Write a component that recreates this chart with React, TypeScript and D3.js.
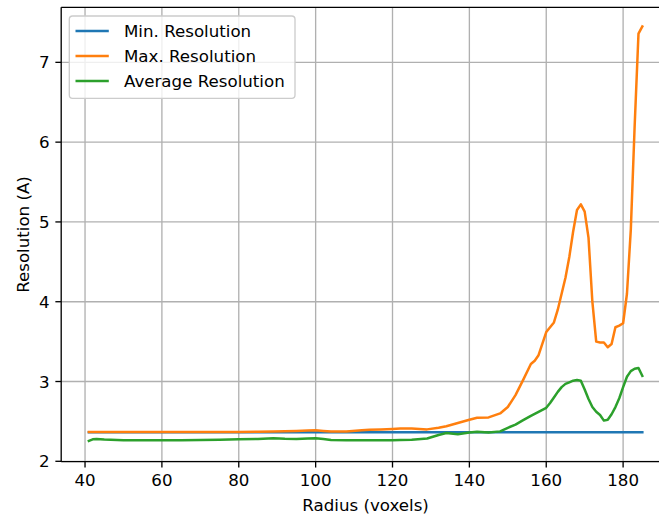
import React from "react";
import * as d3 from "d3";

const radius = [41, 42, 43, 45, 50, 55, 60, 65, 70, 75, 80, 85, 89, 92, 95, 98, 100, 102, 104, 108, 112, 114, 117, 120, 122, 125, 129, 132, 134, 137, 140, 142, 145, 148, 150, 152, 154, 156, 157, 158, 160, 161, 162, 163, 164, 165, 166, 167, 168, 169, 170, 171, 172, 173, 174, 175, 176, 177, 178, 179, 180, 181, 182, 183, 184, 185];

const maxResolution = [2.367, 2.367, 2.367, 2.367, 2.367, 2.367, 2.367, 2.367, 2.367, 2.367, 2.368, 2.37, 2.375, 2.378, 2.38, 2.385, 2.388, 2.38, 2.372, 2.372, 2.39, 2.395, 2.4, 2.405, 2.41, 2.41, 2.4, 2.42, 2.44, 2.48, 2.52, 2.545, 2.55, 2.6, 2.68, 2.83, 3.02, 3.22, 3.26, 3.33, 3.62, 3.68, 3.74, 3.9, 4.1, 4.3, 4.56, 4.88, 5.15, 5.22, 5.13, 4.8, 4.0, 3.5, 3.49, 3.49, 3.43, 3.47, 3.68, 3.7, 3.73, 4.1, 4.9, 6.2, 7.36, 7.45];

const avgResolution = [2.255, 2.275, 2.28, 2.272, 2.265, 2.265, 2.263, 2.265, 2.268, 2.27, 2.275, 2.28, 2.29, 2.282, 2.28, 2.285, 2.29, 2.28, 2.268, 2.265, 2.265, 2.265, 2.265, 2.265, 2.267, 2.27, 2.285, 2.33, 2.355, 2.34, 2.36, 2.37, 2.36, 2.375, 2.42, 2.46, 2.515, 2.57, 2.595, 2.62, 2.67, 2.73, 2.8, 2.87, 2.93, 2.97, 2.99, 3.01, 3.02, 3.01, 2.9, 2.78, 2.68, 2.62, 2.58, 2.51, 2.52, 2.59, 2.68, 2.79, 2.93, 3.06, 3.13, 3.16, 3.17, 3.07];

const minRadius = [41, 185];
const minResolution = [2.365, 2.365];

const xTicks = [40, 60, 80, 100, 120, 140, 160, 180];
const yTicks = [2, 3, 4, 5, 6, 7];

const seriesNames = ["Min. Resolution", "Max. Resolution", "Average Resolution"];
const seriesColors = ["#1f77b4", "#ff7f0e", "#2ca02c"];

const W = 659;
const H = 516;
const L = 61.2;
const R = 670;
const T = 7.3;
const B = 461.7;
const FS = 16.67;
const TICK = 5.83;

export default function App() {
  const x = d3.scaleLinear().domain([33.8, 192.2]).range([L, R]);
  const y = d3.scaleLinear().domain([1.995, 7.69]).range([B, T]);
  const line = d3
    .line<[number, number]>()
    .x((d) => x(d[0]))
    .y((d) => y(d[1]));

  const series: [number, number][][] = [
    minRadius.map((r, i) => [r, minResolution[i]]),
    radius.map((r, i) => [r, maxResolution[i]]),
    radius.map((r, i) => [r, avgResolution[i]]),
  ];

  const font = "'DejaVu Sans', sans-serif";

  return (
    <svg
      width={W}
      height={H}
      style={{ position: "absolute", left: 0, top: 0, background: "#fff" }}
      fontFamily={font}
    >
      <defs>
        <clipPath id="plotclip">
          <rect x={L} y={T} width={R - L} height={B - T} />
        </clipPath>
      </defs>
      <rect x={0} y={0} width={W} height={H} fill="#fff" />
      <g stroke="#b0b0b0" strokeWidth={1.33}>
        {xTicks.map((t) => (
          <line key={"gx" + t} x1={x(t)} x2={x(t)} y1={T} y2={B} />
        ))}
        {yTicks.map((t) => (
          <line key={"gy" + t} x1={L} x2={R} y1={y(t)} y2={y(t)} />
        ))}
      </g>
      <g clipPath="url(#plotclip)" fill="none" strokeWidth={2.5} strokeLinejoin="round" strokeLinecap="square">
        {series.map((s, i) => (
          <path key={i} d={line(s) || ""} stroke={seriesColors[i]} />
        ))}
      </g>
      <g stroke="#000" strokeWidth={1.33} fill="none">
        <line x1={L} x2={L} y1={T} y2={B} />
        <line x1={L} x2={R} y1={B} y2={B} />
        <line x1={L} x2={R} y1={T} y2={T} />
        <line x1={R} x2={R} y1={T} y2={B} />
      </g>
      <g>
        {xTicks.map((t) => (
          <g key={"xt" + t}>
            <line x1={x(t)} x2={x(t)} y1={B} y2={B + TICK} stroke="#000" strokeWidth={1.33} />
            <text x={x(t)} y={B + 2 * TICK + 12.6} fontSize={FS} textAnchor="middle" fill="#000">
              {t}
            </text>
          </g>
        ))}
      </g>
      <g>
        {yTicks.map((t) => (
          <g key={"yt" + t}>
            <line x1={L - TICK} x2={L} y1={y(t)} y2={y(t)} stroke="#000" strokeWidth={1.33} />
            <text x={L - 2 * TICK} y={y(t) + 6} fontSize={FS} textAnchor="end" fill="#000">
              {t}
            </text>
          </g>
        ))}
      </g>
      <text x={(L + R) / 2} y={510.5} fontSize={FS} textAnchor="middle" fill="#000">
        Radius (voxels)
      </text>
      <text
        transform={`translate(${28.5},${(T + B) / 2}) rotate(-90)`}
        fontSize={FS}
        textAnchor="middle"
        fill="#000"
      >
        Resolution (A)
      </text>
      <g>
        <rect x={69.3} y={16} width={225.7} height={82.3} rx={3.3} fill="#fff" fillOpacity={0.8} stroke="#cccccc" strokeWidth={1.33} />
        {seriesNames.map((n, i) => (
          <g key={n}>
            <line x1={75.5} x2={108.8} y1={31 + i * 25} y2={31 + i * 25} stroke={seriesColors[i]} strokeWidth={2.5} />
            <text x={124} y={37 + i * 25} fontSize={FS} fill="#000">
              {n}
            </text>
          </g>
        ))}
      </g>
    </svg>
  );
}
